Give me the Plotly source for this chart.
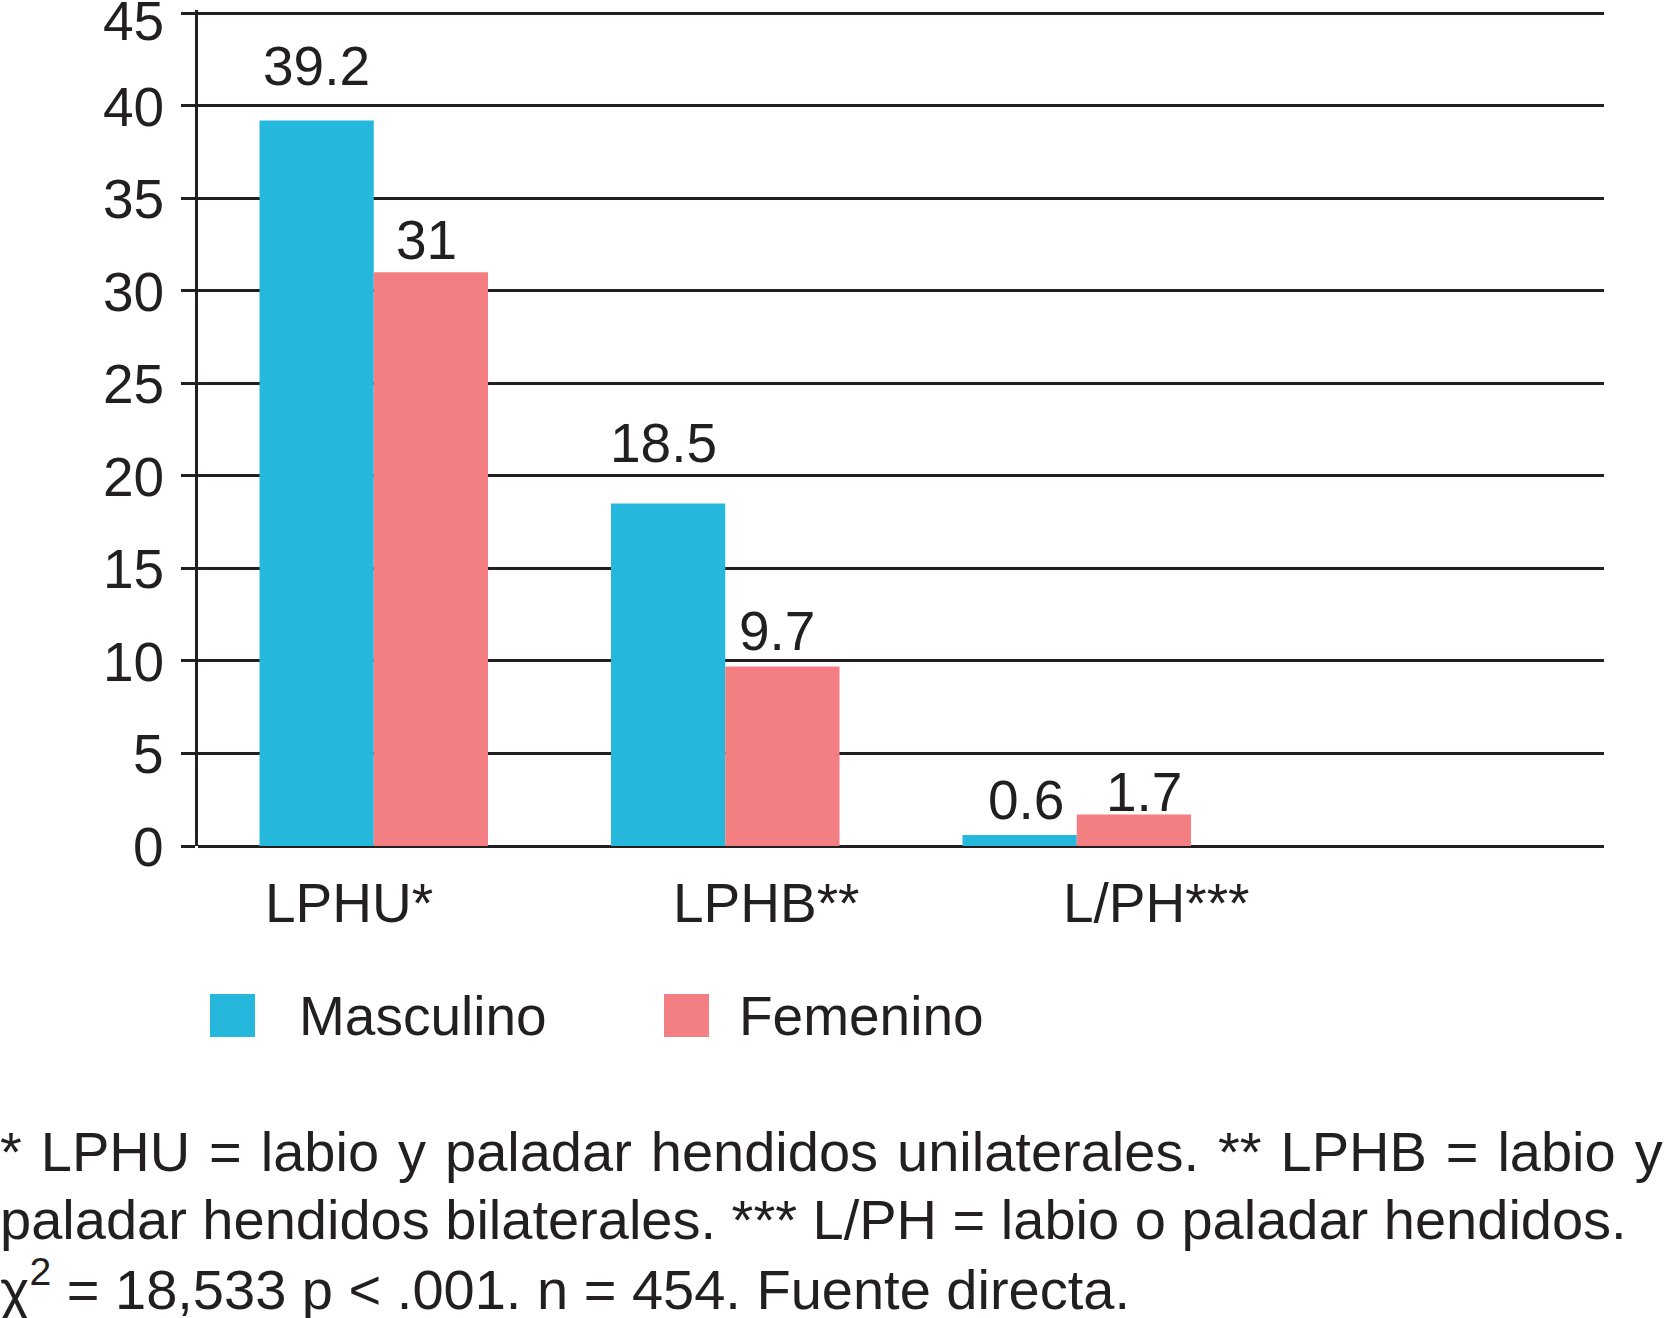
import plotly.graph_objects as go

# ---------------- data ----------------
categories = ["LPHU*", "LPHB**", "L/PH***"]
masculino = [39.2, 18.5, 0.6]
femenino = [31, 9.7, 1.7]
series_names = ["Masculino", "Femenino"]
series_colors = ["#25B7DC", "#F37F83"]
y_ticks = [0, 5, 10, 15, 20, 25, 30, 35, 40, 45]
footnote_lines = [
    '<span style="word-spacing:3.4px">* LPHU = labio y paladar hendidos unilaterales. ** LPHB = labio y</span>',
    "paladar hendidos bilaterales. *** L/PH = labio o paladar hendidos.",
    "χ<sup>2</sup> = 18,533 p &lt; .001. n = 454. Fuente directa.",
]

# ---------------- layout constants ----------------
W, H = 1664, 1318
ML, MR, MT, MB = 198, 60, 10, 472
PW, PH = W - ML - MR, H - MT - MB
FONT = "Liberation Sans, Arial, Helvetica, sans-serif"
INK = "#231f20"
FS = 55
Y_TOP = 45.17


def px_x(px):
    return (px - ML) / PW


def px_y(py):
    return (H - MB - py) / PH


fig = go.Figure()
for name, vals, col in zip(series_names, [masculino, femenino], series_colors):
    fig.add_trace(go.Bar(x=categories, y=vals, name=name, marker=dict(color=col, line=dict(width=0)),
                         showlegend=False, hoverinfo="skip"))

fig.update_layout(
    template="none",
    width=W, height=H,
    margin=dict(l=ML, r=MR, t=MT, b=MB, autoexpand=False),
    paper_bgcolor="white", plot_bgcolor="white",
    barmode="group", bargap=0.35, bargroupgap=0,
    font=dict(family=FONT, size=FS, color=INK),
    showlegend=False,
)
fig.update_xaxes(range=[-0.5, 3.5], showticklabels=False, showgrid=False, zeroline=False,
                 showline=False, ticks="", automargin=False)
fig.update_yaxes(range=[0, Y_TOP], tickmode="array", tickvals=y_ticks, showticklabels=False,
                 ticks="outside", ticklen=14, tickwidth=3, tickcolor=INK,
                 showgrid=True, gridcolor=INK, gridwidth=3,
                 showline=True, linecolor=INK, linewidth=3,
                 zeroline=True, zerolinecolor=INK, zerolinewidth=3,
                 automargin=False)

# y tick labels (the top one kept inside the picture, as in the reference)
for t in y_ticks:
    top = t == max(y_ticks)
    fig.add_annotation(x=px_x(166), xref="paper", y=t, yref="y",
                       xanchor="right", yanchor="top" if top else "middle",
                       yshift=25 if top else -1, text=str(t), showarrow=False,
                       font=dict(size=FS, color=INK, family=FONT))

# category labels under the axis
cat_xshift = [-25, 41, 79]
for c, xs in zip(categories, cat_xshift):
    fig.add_annotation(x=c, xref="x", y=0, yref="paper", yanchor="top", xanchor="center",
                       yshift=-24, xshift=xs, text=c, showarrow=False,
                       font=dict(size=FS, color=INK, family=FONT))

# value labels above bars
bar_half_px = 0.325 * PW / 4 / 2
lift = [[54, 61, 35], [32, 35, 23]]
nudge = [[0, -5, 6], [-4, -5, 10]]
for si, vals in enumerate([masculino, femenino]):
    sign = -1 if si == 0 else 1
    for c, v, lf, nx in zip(categories, vals, lift[si], nudge[si]):
        fig.add_annotation(x=c, xref="x", y=v, yref="y", yanchor="middle", xanchor="center",
                           xshift=sign * bar_half_px + nx, yshift=lf, text=str(v), showarrow=False,
                           font=dict(size=FS, color=INK, family=FONT))

# legend (manual)
leg_sq_x = [210, 664]
leg_tx_x = [297, 737]
for name, col, sx, tx in zip(series_names, series_colors, leg_sq_x, leg_tx_x):
    fig.add_shape(type="rect", xref="paper", yref="paper",
                  x0=px_x(sx), x1=px_x(sx + 45), y0=px_y(1037), y1=px_y(994),
                  fillcolor=col, line=dict(width=0))
    fig.add_annotation(x=px_x(tx), xref="paper", y=px_y(1016), yref="paper",
                       xanchor="left", yanchor="middle", text=name, showarrow=False,
                       font=dict(size=FS, color=INK, family=FONT))

# footnote
fn_y = [1151, 1219.5, 1286]
for line, yy in zip(footnote_lines, fn_y):
    fig.add_annotation(x=px_x(-2), xref="paper", y=px_y(yy), yref="paper",
                       xanchor="left", yanchor="middle", align="left", text=line, showarrow=False,
                       font=dict(size=56, color=INK, family=FONT))

fig.write_html("out.html", config={"displayModeBar": False},
               post_script="document.body.style.margin='0';")
